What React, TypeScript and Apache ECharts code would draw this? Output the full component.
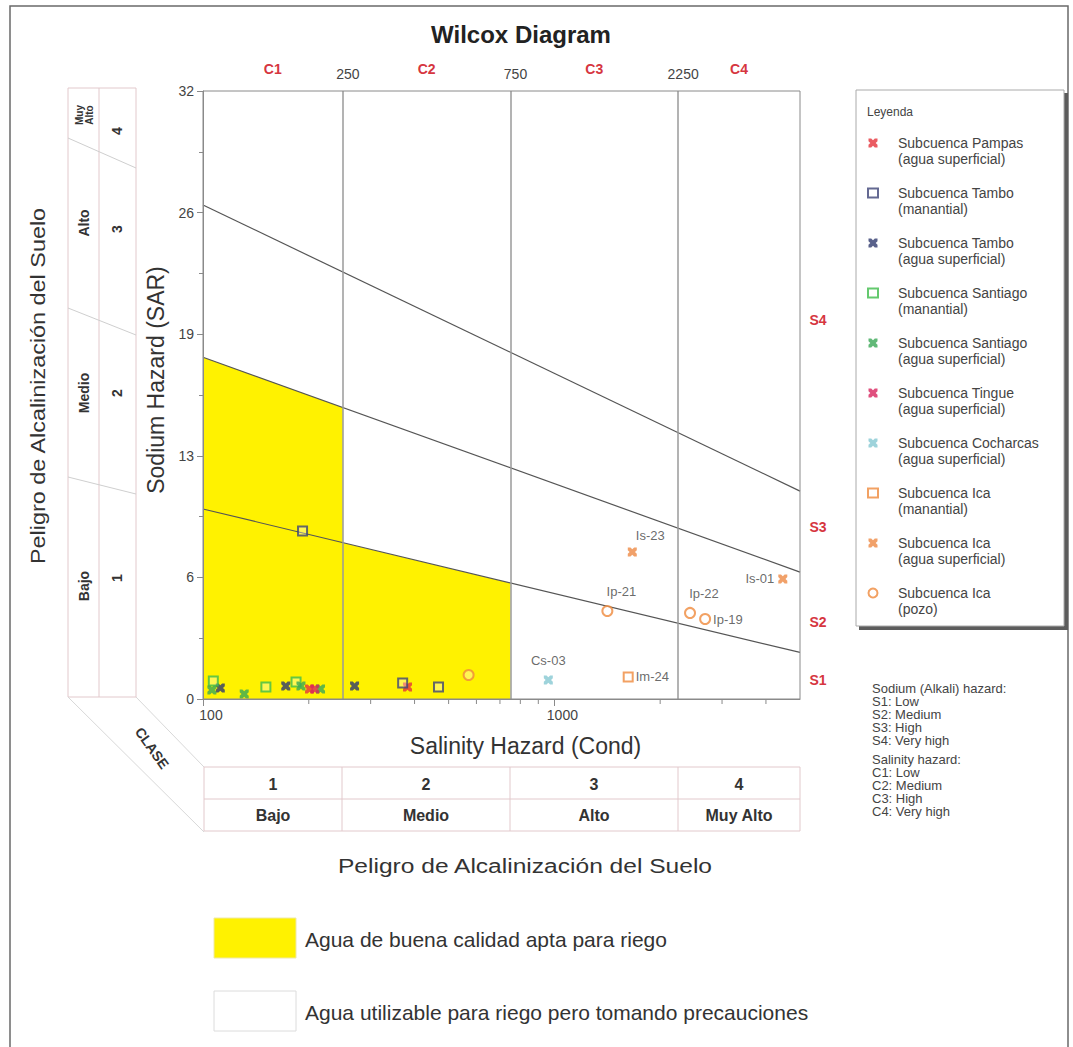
import React, { useEffect, useRef } from "react";
import * as echarts from "echarts";

const FONT = "Liberation Sans, Arial, sans-serif";

// Axis ranges
const X_MIN = 100;
const X_MAX = 5000;
const Y_MIN = 0;
const Y_MAX = 32;
const Y_INTERVAL = 6.4;

// Salinity class boundaries (Cond) and class labels
const salinityBounds = [250, 750, 2250];
const salinityClassLabels = ["C1", "C2", "C3", "C4"];
const salinityClassCenters = [158, 433, 1299, 3354];

// Sodium class labels (right side) and their SAR positions
const sodiumClassLabels = ["S1", "S2", "S3", "S4"];
const sodiumClassCenters = [1.0, 4.05, 9.05, 19.95];

// Log axis minor ticks
const xMinorTicks = [200, 300, 400, 500, 600, 700, 800, 900, 2000, 3000, 4000];

// Sodium hazard boundary lines [Cond, SAR]
const lineS1S2 = [[100, 10.0], [5000, 2.45]];
const lineS2S3 = [[100, 17.99], [5000, 6.68]];
const lineS3S4 = [[100, 26.0], [5000, 10.94]];

// Good quality water zone (yellow)
const goodWaterZone = [[100, 0], [100, 17.99], [250, 15.34], [250, 8.22], [750, 6.1], [750, 0]];

// Samples [Cond, SAR]
const pampasSup = [[201, 0.53], [382, 0.63]];
const tamboMan = [[192, 8.84], [370, 0.84], [468, 0.63]];
const tamboSup = [[112, 0.58], [172, 0.68], [270, 0.68]];
const santiagoMan = [[107, 0.95], [151, 0.63], [184, 0.9]];
const santiagoSup = [[106, 0.47], [131, 0.26], [190, 0.68], [216, 0.53]];
const tingueSup = [[208, 0.53]];
const cocharcasSup = [[961, 1.0]];
const icaMan = [[1622, 1.16]];
const icaSup = [[1666, 7.74], [4467, 6.32]];
const icaPozo = [[570, 1.26], [1415, 4.63], [2432, 4.53], [2685, 4.21]];

const cocharcasNames = ["Cs-03"];
const icaManNames = ["Im-24"];
const icaSupNames = ["Is-23", "Is-01"];
const icaPozoNames = ["", "Ip-21", "Ip-22", "Ip-19"];

const labelPlacement: Record<string, any> = {
  "Is-23": { position: "top", offset: [18, 0] },
  "Is-01": { position: "left", distance: 4 },
  "Ip-21": { position: "top", offset: [14, -2] },
  "Ip-22": { position: "top", offset: [14, -2] },
  "Ip-19": { position: "right", distance: 2 },
  "Cs-03": { position: "top", offset: [0, -4] },
  "Im-24": { position: "right", distance: 2 },
};

const CROSS =
  "path://M0,0L3,0L5,2L7,0L10,0L10,3L8,5L10,7L10,10L7,10L5,8L3,10L0,10L0,7L2,5L0,3Z";

const seriesDefs = [
  { name: "Subcuenca Pampas\n(agua superficial)", data: pampasSup, kind: "cross", color: "#e5333b" },
  { name: "Subcuenca Tambo\n(manantial)", data: tamboMan, kind: "square", color: "#3d4377" },
  { name: "Subcuenca Tambo\n(agua superficial)", data: tamboSup, kind: "cross", color: "#2f3a6e" },
  { name: "Subcuenca Santiago\n(manantial)", data: santiagoMan, kind: "square", color: "#3dbb4a" },
  { name: "Subcuenca Santiago\n(agua superficial)", data: santiagoSup, kind: "cross", color: "#3aa856" },
  { name: "Subcuenca Tingue\n(agua superficial)", data: tingueSup, kind: "cross", color: "#d8245e" },
  { name: "Subcuenca Cocharcas\n(agua superficial)", data: cocharcasSup, kind: "cross", color: "#86c8d2", names: cocharcasNames },
  { name: "Subcuenca Ica\n(manantial)", data: icaMan, kind: "square", color: "#ef8a3c", names: icaManNames },
  { name: "Subcuenca Ica\n(agua superficial)", data: icaSup, kind: "cross", color: "#ee8a45", names: icaSupNames },
  { name: "Subcuenca Ica\n(pozo)", data: icaPozo, kind: "circle", color: "#ef8a3c", names: icaPozoNames },
];

function buildScatter(def: any) {
  const symbol = def.kind === "cross" ? CROSS : def.kind === "square" ? "rect" : "circle";
  const itemStyle =
    def.kind === "cross"
      ? { color: def.color }
      : { color: "rgba(255,255,255,0.4)", borderColor: def.color, borderWidth: 2 };
  return {
    type: "scatter",
    name: def.name,
    symbol,
    symbolSize: def.kind === "cross" ? 9 : def.kind === "square" ? 9 : 10,
    itemStyle,
    z: 6,
    data: def.data.map((v: number[], i: number) => {
      const nm = def.names ? def.names[i] : "";
      if (!nm) return { value: v };
      return {
        value: v,
        label: {
          show: true,
          formatter: nm,
          color: "#444",
          fontSize: 13,
          fontFamily: FONT,
          ...labelPlacement[nm],
        },
      };
    }),
  };
}

function boundaryLine(data: number[][]) {
  return {
    type: "line",
    data,
    symbol: "none",
    silent: true,
    z: 4,
    lineStyle: { color: "#555", width: 1.2 },
  };
}

const tableLine = "#e2c9cc";

function buildGraphic() {
  const g: any[] = [];
  // outer frame
  g.push({ type: "rect", silent: true, shape: { x: 10, y: 6, width: 1058, height: 1050 }, style: { fill: "none", stroke: "#6a6a6a", lineWidth: 1.5 } });

  // Legend box with shadow
  g.push({ type: "rect", silent: true, shape: { x: 859, y: 93, width: 209, height: 537 }, style: { fill: "#5c5c5c" } });
  g.push({ type: "rect", silent: true, shape: { x: 856, y: 90, width: 208, height: 536 }, style: { fill: "#fff", stroke: "#aaa", lineWidth: 1 } });
  g.push({ type: "text", silent: true, x: 867, y: 112, style: { text: "Leyenda", fill: "#444", font: `12px ${FONT}`, verticalAlign: "middle" } });

  // Hazard notes
  g.push({
    type: "text", silent: true, x: 872, y: 681.5,
    style: { text: "Sodium (Alkali) hazard:\nS1: Low\nS2: Medium\nS3: High\nS4: Very high", fill: "#444", font: `13px ${FONT}`, lineHeight: 13, verticalAlign: "top" },
  });
  g.push({
    type: "text", silent: true, x: 872, y: 752.5,
    style: { text: "Salinity hazard:\nC1: Low\nC2: Medium\nC3: High\nC4: Very high", fill: "#444", font: `13px ${FONT}`, lineHeight: 13, verticalAlign: "top" },
  });

  // Left table
  const lt = { l: 68, m: 99, r: 136, t: 88, b: 697 };
  const seg = (x1: number, y1: number, x2: number, y2: number, color = tableLine) =>
    g.push({ type: "line", silent: true, shape: { x1, y1, x2, y2 }, style: { stroke: color, lineWidth: 1 } });
  seg(lt.l, lt.t, lt.r, lt.t);
  seg(lt.l, lt.b, lt.r, lt.b);
  seg(lt.l, lt.t, lt.l, lt.b);
  seg(lt.m, lt.t, lt.m, lt.b);
  seg(lt.r, lt.t, lt.r, lt.b);
  seg(lt.l, 138, lt.r, 168, "#cfcfcf");
  seg(lt.l, 308, lt.r, 335, "#cfcfcf");
  seg(lt.l, 477, lt.r, 494, "#cfcfcf");
  // diagonals to bottom table
  seg(lt.l, lt.b, 204, 832, "#d8d8d8");
  seg(lt.r, lt.b, 204, 767, "#d8d8d8");

  const rot = (text: string, x: number, y: number, size: number, bold = true, lh = 12, sx = 1) =>
    g.push({
      type: "text", silent: true, x, y, rotation: Math.PI / 2, scaleX: sx,
      style: { text, fill: "#333", font: `${bold ? "bold " : ""}${size}px ${FONT}`, align: "center", verticalAlign: "middle", lineHeight: lh },
    });
  rot("Bajo", 84, 586, 14);
  rot("1", 117, 578, 14);
  rot("Medio", 84, 393, 14);
  rot("2", 117, 393, 14);
  rot("Alto", 84, 223, 14);
  rot("3", 117, 229, 14);
  rot("Muy\nAlto", 84, 115, 10, true, 10);
  rot("4", 117, 131, 14);
  rot("Peligro de Alcalinización del Suelo", 38, 386, 20, false, 20, 1.17);

  g.push({
    type: "text", silent: true, x: 152, y: 748, rotation: -0.95,
    style: { text: "CLASE", fill: "#333", font: `bold 14px ${FONT}`, align: "center", verticalAlign: "middle" },
  });

  // Bottom table
  const cols = [204, 342, 510, 678, 800];
  const rows = [767, 799, 831];
  rows.forEach((y) => seg(cols[0], y, cols[4], y));
  cols.forEach((x) => seg(x, rows[0], x, rows[2]));
  const nums = ["1", "2", "3", "4"];
  const names = ["Bajo", "Medio", "Alto", "Muy Alto"];
  for (let i = 0; i < 4; i++) {
    const cx = (cols[i] + cols[i + 1]) / 2;
    g.push({ type: "text", silent: true, x: cx, y: 784, style: { text: nums[i], fill: "#333", font: `bold 16px ${FONT}`, align: "center", verticalAlign: "middle" } });
    g.push({ type: "text", silent: true, x: cx, y: 815, style: { text: names[i], fill: "#333", font: `bold 16px ${FONT}`, align: "center", verticalAlign: "middle" } });
  }
  g.push({ type: "text", silent: true, x: 525, y: 866, scaleX: 1.17, style: { text: "Peligro de Alcalinización del Suelo", fill: "#333", font: `21px ${FONT}`, align: "center", verticalAlign: "middle" } });

  // bottom legend
  g.push({ type: "rect", silent: true, shape: { x: 214, y: 918, width: 82, height: 40 }, style: { fill: "#fff200", stroke: "#eee8a8" } });
  g.push({ type: "text", silent: true, x: 305, y: 939, style: { text: "Agua de buena calidad apta para riego", fill: "#333", font: `21px ${FONT}`, verticalAlign: "middle" } });
  g.push({ type: "rect", silent: true, shape: { x: 214, y: 991, width: 82, height: 40 }, style: { fill: "#fff", stroke: "#dcdcdc" } });
  g.push({ type: "text", silent: true, x: 305, y: 1012, style: { text: "Agua utilizable para riego pero tomando precauciones", fill: "#333", font: `21px ${FONT}`, verticalAlign: "middle" } });
  return g;
}

function buildOption() {
  return {
    animation: false,
    backgroundColor: "#fff",
    textStyle: { fontFamily: FONT },
    title: {
      text: "Wilcox Diagram",
      left: 516,
      top: 17,
      textAlign: "center",
      textStyle: { fontSize: 24, fontWeight: "bold", color: "#222", fontFamily: FONT },
    },
    legend: {
      orient: "vertical",
      left: 867,
      top: 119,
      padding: 0,
      itemWidth: 10,
      itemHeight: 9,
      itemGap: 2,
      selectedMode: false,
      formatter: (name: string) => "\n" + name,
      textStyle: { fontSize: 14, color: "#444", lineHeight: 16, padding: [0, 0, 0, 15], fontFamily: FONT },
      data: seriesDefs.map((d) => d.name),
    },
    grid: { left: 203, top: 91, width: 597, height: 608, show: true, borderColor: "#8a8a8a", borderWidth: 1, backgroundColor: "transparent", z: 10 },
    xAxis: {
      type: "log",
      logBase: 10,
      min: X_MIN,
      max: X_MAX,
      z: 10,
      axisLine: { show: true, lineStyle: { color: "#8a8a8a" } },
      axisTick: { show: true, length: 7, lineStyle: { color: "#8a8a8a" } },
      axisLabel: {
        color: "#444", fontSize: 14, margin: 9, fontFamily: FONT, showMaxLabel: false,
        padding: [0, 0, 0, 16],
        formatter: (v: number) => String(Math.round(v)),
      },
      splitLine: { show: false },
      minorTick: { show: false },
      name: "Salinity Hazard (Cond)",
      nameLocation: "middle",
      nameGap: 35,
      nameTextStyle: { fontSize: 23, color: "#333", fontFamily: FONT, padding: [0, 0, 0, 48] },
    },
    yAxis: {
      type: "value",
      min: Y_MIN,
      max: Y_MAX,
      interval: Y_INTERVAL,
      z: 10,
      axisLine: { show: true, lineStyle: { color: "#8a8a8a" } },
      axisTick: { show: true, length: 6, lineStyle: { color: "#8a8a8a" } },
      minorTick: { show: true, splitNumber: 2, length: 4, lineStyle: { color: "#8a8a8a" } },
      axisLabel: { color: "#444", fontSize: 14, margin: 9, fontFamily: FONT, formatter: (v: number) => String(Math.round(v)) },
      splitLine: { show: false },
      name: "Sodium Hazard (SAR)",
      nameLocation: "middle",
      nameGap: 36,
      nameTextStyle: { fontSize: 23, color: "#333", fontFamily: FONT, padding: [0, 0, 0, 30] },
    },
    series: [
      {
        type: "custom",
        name: "zone",
        silent: true,
        z: 1,
        data: [goodWaterZone[0]],
        renderItem: (_p: any, api: any) => ({
          type: "polygon",
          shape: { points: goodWaterZone.map((pt) => api.coord(pt)) },
          style: { fill: "#fff200" },
        }),
      },
      {
        type: "line",
        name: "limits",
        data: [],
        silent: true,
        z: 3,
        markLine: {
          silent: true,
          symbol: ["none", "none"],
          lineStyle: { color: "#9a9a9a", width: 1.5, type: "solid" },
          label: {
            show: true,
            position: "end",
            distance: 10,
            color: "#444",
            fontSize: 14,
            fontFamily: FONT,
            padding: [0, 0, 0, 10],
            formatter: (p: any) => String(p.value),
          },
          data: salinityBounds.map((v) => ({ xAxis: v })),
        },
      },
      boundaryLine(lineS1S2),
      boundaryLine(lineS2S3),
      boundaryLine(lineS3S4),
      {
        type: "custom",
        name: "minorTicks",
        silent: true,
        z: 10,
        data: xMinorTicks.map((v) => [v, Y_MIN]),
        renderItem: (_p: any, api: any) => {
          const p = api.coord([api.value(0), Y_MIN]);
          return { type: "line", shape: { x1: p[0], y1: p[1], x2: p[0], y2: p[1] + 5 }, style: { stroke: "#8a8a8a", lineWidth: 1 } };
        },
      },
      {
        type: "custom",
        name: "classC",
        silent: true,
        z: 10,
        data: salinityClassCenters.map((v, i) => [v, Y_MAX, i]),
        renderItem: (_p: any, api: any) => {
          const p = api.coord([api.value(0), Y_MAX]);
          return {
            type: "text",
            x: p[0],
            y: p[1] - 22,
            style: { text: salinityClassLabels[api.value(2)], fill: "#d6363f", font: `bold 14px ${FONT}`, align: "center", verticalAlign: "middle" },
          };
        },
      },
      {
        type: "custom",
        name: "classS",
        silent: true,
        z: 10,
        data: sodiumClassCenters.map((v, i) => [X_MAX, v, i]),
        renderItem: (_p: any, api: any) => {
          const p = api.coord([X_MAX, api.value(1)]);
          return {
            type: "text",
            x: p[0] + 18,
            y: p[1],
            style: { text: sodiumClassLabels[api.value(2)], fill: "#d6363f", font: `bold 14px ${FONT}`, align: "center", verticalAlign: "middle" },
          };
        },
      },
      ...seriesDefs.map(buildScatter),
    ],
    graphic: buildGraphic(),
  };
}

export default function App() {
  const ref = useRef<HTMLDivElement>(null);
  useEffect(() => {
    document.body.style.margin = "0";
    const chart = echarts.init(ref.current!, undefined, { renderer: "svg" });
    chart.setOption(buildOption() as any);
    return () => chart.dispose();
  }, []);
  return <div ref={ref} style={{ width: 1073, height: 1047 }} />;
}
